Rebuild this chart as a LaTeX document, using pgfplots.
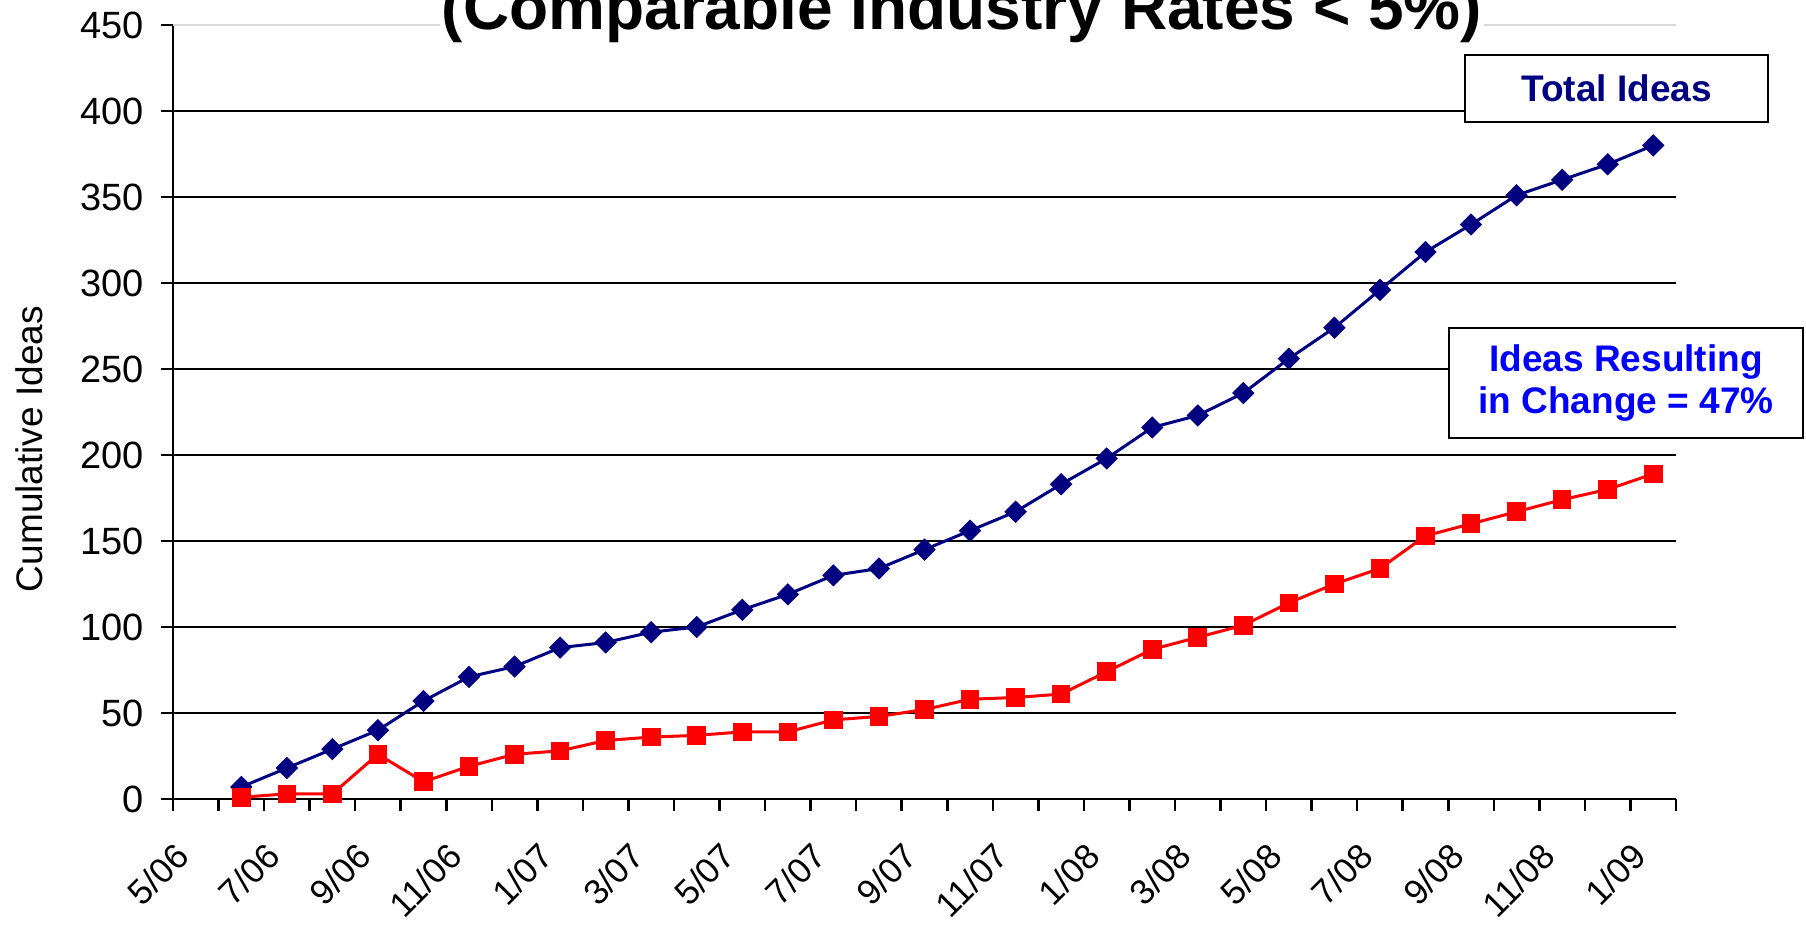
\documentclass[border=0pt]{standalone}
\usepackage{fontspec}
\setmainfont{Liberation Sans}
\usepackage{pgfplots}
\pgfplotsset{compat=1.18}
\definecolor{navyc}{RGB}{0,0,128}
\definecolor{redc}{RGB}{255,0,0}
\definecolor{bluec}{RGB}{0,0,255}
\begin{document}
\begin{tikzpicture}
\begin{axis}[
  at={(0,0)}, anchor=south west,
  scale only axis,
  width=751.5pt, height=387pt,
  xmin=0, xmax=33, ymin=0, ymax=450,
  clip=false,
  axis x line=bottom, axis y line=left,
  axis line style={-, line width=1.3pt, black},
  xtick={0,...,33},
  xticklabels={5/06,,7/06,,9/06,,11/06,,1/07,,3/07,,5/07,,7/07,,9/07,,11/07,,1/08,,3/08,,5/08,,7/08,,9/08,,11/08,,1/09,},
  ytick={0,50,...,400},
  extra y ticks={450},
  extra y tick style={grid style={gray!30, line width=0.8pt}},
  ymajorgrids,
  grid style={black, line width=1.2pt},
  tick align=outside,
  major tick length=6pt,
  tick style={black, line width=1.3pt},
  /pgf/number format/assume math mode=true,
  yticklabel style={font=\fontsize{19}{22}\selectfont},
  yticklabel shift=5pt,
  xticklabel style={font=\fontsize{17.5}{20}\selectfont, rotate=45, anchor=north east, inner sep=2pt},
  xticklabel shift=12pt,
  ylabel={Cumulative Ideas},
  ylabel style={font=\fontsize{18.5}{21}\selectfont, at={(axis description cs:-0.0958,0.452)}, anchor=center},
]
\addplot[navyc, line width=1.5pt, mark=square*, mark size=3.7pt, mark options={rotate=45, fill=navyc, draw=navyc, line width=0.5pt}]
coordinates {
(1.5,7)(2.5,18)(3.5,29)(4.5,40)(5.5,57)(6.5,71)(7.5,77)(8.5,88)(9.5,91)(10.5,97)
(11.5,100)(12.5,110)(13.5,119)(14.5,130)(15.5,134)(16.5,145)(17.5,156)(18.5,167)(19.5,183)(20.5,198)
(21.5,216)(22.5,223)(23.5,236)(24.5,256)(25.5,274)(26.5,296)(27.5,318)(28.5,334)(29.5,351)(30.5,360)
(31.5,369)(32.5,380)
};
\addplot[redc, line width=1.5pt, mark=square*, mark size=4.4pt, mark options={fill=redc, draw=redc, line width=0.5pt}]
coordinates {
(1.5,1)(2.5,3)(3.5,3)(4.5,26)(5.5,10)(6.5,19)(7.5,26)(8.5,28)(9.5,34)(10.5,36)
(11.5,37)(12.5,39)(13.5,39)(14.5,46)(15.5,48)(16.5,52)(17.5,58)(18.5,59)(19.5,61)(20.5,74)
(21.5,87)(22.5,94)(23.5,101)(24.5,114)(25.5,125)(26.5,134)(27.5,153)(28.5,160)(29.5,167)(30.5,174)
(31.5,180)(32.5,189)
};
\end{axis}
\node[fill=white, inner sep=1pt, anchor=base, font=\fontsize{32}{38}\bfseries\selectfont] at (394.5pt,384.5pt) {(Comparable Industry Rates < 5\%)};
\node[draw=black, line width=1pt, fill=white, minimum width=151.5pt, minimum height=33.5pt, inner sep=0pt, font=\fontsize{18.5}{21}\bfseries\selectfont, text=navyc] at (721.75pt,355.25pt) {Total Ideas};
\node[draw=black, line width=1pt, fill=white, minimum width=177pt, minimum height=55pt, inner sep=0pt, align=center, font=\fontsize{18.5}{21}\bfseries\selectfont, text=bluec] at (726.5pt,208pt) {Ideas Resulting\\in Change = 47\%};
\pgfresetboundingbox
\useasboundingbox (-86.5pt,-65.5pt) rectangle (816.5pt,399.5pt);
\end{tikzpicture}
\end{document}
